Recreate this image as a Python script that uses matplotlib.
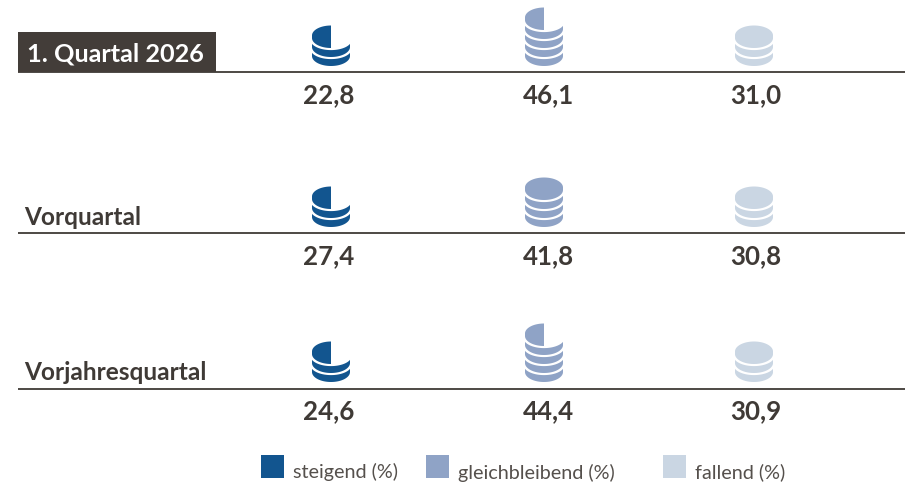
import matplotlib
matplotlib.use("Agg")
import matplotlib.pyplot as plt
from matplotlib.patches import Polygon, Rectangle
import numpy as np

# values per period, in %
periods = ["1. Quartal 2026", "Vorquartal", "Vorjahresquartal"]
steigend = [22.8, 27.4, 24.6]
gleichbleibend = [46.1, 41.8, 44.4]
fallend = [31.0, 30.8, 30.9]
legend_labels = ["steigend (%)", "gleichbleibend (%)", "fallend (%)"]

colors = ["#12558f", "#8fa3c6", "#cad6e3"]
ink = "#3f3a36"

plt.rcParams["font.family"] = ["Lato", "DejaVu Sans"]

W, H = 908, 485
fig = plt.figure(figsize=(W / 100, H / 100), dpi=100)
ax = fig.add_axes([0, 0, 1, 1])
ax.set_xlim(0, W)
ax.set_ylim(H, 0)
ax.axis("off")

RX, RY, THICK, PITCH, GAP = 19, 10, 2.5, 9.0, 2.1


def coin_shape(cx, bottom, half=False, rx=RX):
    # disc seen from above: top arc, short side, front arc
    yc_top = bottom - THICK - RY
    yc_low = bottom - RY
    if half:
        t_top = np.linspace(np.pi / 2, np.pi, 40)
        t_low = np.linspace(np.pi, 1.5 * np.pi, 40)
    else:
        t_top = np.linspace(0, np.pi, 80)
        t_low = np.linspace(np.pi, 2 * np.pi, 80)
    top = np.c_[cx + rx * np.cos(t_top), yc_top - RY * np.sin(t_top)]
    low = np.c_[cx + rx * np.cos(t_low), yc_low - RY * np.sin(t_low)]
    return np.vstack([top, low])


def draw_stack(cx, bottom, value, color):
    # one disc per 10 %, rounded to half discs
    n_half = int(round(value / 5))
    n_full = n_half // 2
    for i in range(n_full + n_half % 2):
        b = bottom - i * PITCH
        is_half = i == n_full
        ax.add_patch(Polygon(coin_shape(cx, b + GAP, rx=RX + 1.5), fc="white", ec="none", zorder=2 + i))
        ax.add_patch(Polygon(coin_shape(cx, b, half=is_half), fc=color, ec="none", zorder=2 + i))


line_y = [72.8, 234, 390]
stack_bottom = [67, 228, 383]
value_y = [103.5, 264.5, 419.5]
label_y = [61.5, 225, 380]
stack_x = [331, 544, 754]
value_x = [329, 548, 756]
legend_y = [478, 479.5, 478]

for r, period in enumerate(periods):
    ax.plot([18, 905], [line_y[r], line_y[r]], color=ink, lw=1.3, solid_capstyle="butt", zorder=1)
    if r == 0:
        ax.add_patch(Rectangle((18, 33), 198, 40, fc="#433d39", ec="none", zorder=1))
        ax.text(27, label_y[r], period, color="white", fontsize=18.2, fontweight="bold",
                ha="left", va="baseline", zorder=3)
    else:
        ax.text(24, label_y[r], period, color=ink, fontsize=17.6, fontweight="bold",
                ha="left", va="baseline", zorder=3)
    for c, series in enumerate([steigend, gleichbleibend, fallend]):
        draw_stack(stack_x[c], stack_bottom[r], series[r], colors[c])
        label = f"{series[r]:.1f}".replace(".", ",")
        ax.text(value_x[c], value_y[r], label, color=ink, fontsize=18.6, fontweight="bold",
                ha="center", va="baseline", zorder=3)

legend_box_x = [261, 426, 663]
legend_text_x = [293, 458, 695]
for c, lab in enumerate(legend_labels):
    ax.add_patch(Rectangle((legend_box_x[c], 456), 23, 23, fc=colors[c], ec="none"))
    ax.text(legend_text_x[c], legend_y[c], lab, color="#55504c", fontsize=14.2, ha="left", va="baseline")

fig.savefig("out.png", dpi=100)
